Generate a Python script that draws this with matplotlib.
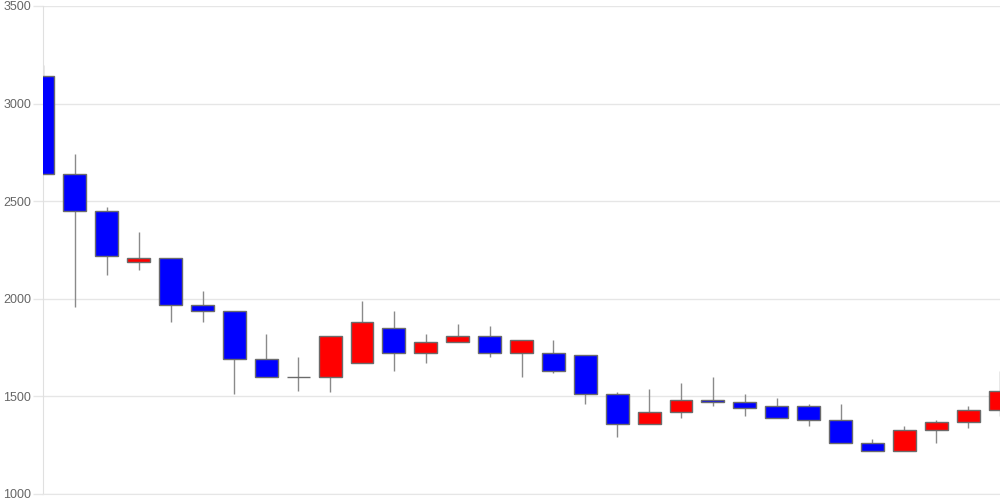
import matplotlib.pyplot as plt

plt.rcParams['font.family'] = ['Liberation Sans', 'DejaVu Sans']

# daily OHLC values
opens = [3140, 2640, 2450, 2190, 2210, 1970, 1940, 1690, 1600, 1600, 1670,
         1850, 1720, 1780, 1810, 1720, 1720, 1710, 1510, 1360, 1420, 1480,
         1470, 1450, 1450, 1380, 1260, 1220, 1330, 1370, 1430]
highs = [3200, 2740, 2470, 2340, 2210, 2040, 1940, 1820, 1700, 1810, 1990,
         1940, 1820, 1870, 1860, 1790, 1790, 1710, 1520, 1540, 1570, 1600,
         1510, 1490, 1460, 1460, 1280, 1350, 1380, 1450, 1630]
lows = [2640, 1960, 2120, 2150, 1880, 1880, 1510, 1600, 1530, 1520, 1670,
        1630, 1670, 1780, 1700, 1600, 1620, 1460, 1290, 1360, 1390, 1450,
        1400, 1390, 1350, 1260, 1220, 1220, 1260, 1340, 1400]
closes = [2640, 2450, 2220, 2210, 1970, 1940, 1690, 1600, 1600, 1810, 1880,
          1720, 1780, 1810, 1720, 1790, 1630, 1510, 1360, 1420, 1480, 1470,
          1440, 1390, 1380, 1260, 1220, 1330, 1370, 1430, 1530]
y_ticks = [1000, 1500, 2000, 2500, 3000, 3500]

fig = plt.figure(figsize=(10, 5), dpi=100)
ax = fig.add_axes([0.043, 0.012, 0.957, 0.976])

x = list(range(len(opens)))
for i in x:
    o, h, l, c = opens[i], highs[i], lows[i], closes[i]
    ax.vlines(i, l, h, color='#8a8a8a', linewidth=1, zorder=2)
    if c > o:
        face = '#ff0000'
    elif c < o:
        face = '#0000ff'
    else:
        face = '#777777'
    ax.bar(i, c - o, bottom=o, width=0.72, color=face, edgecolor='#6b6b6b',
           linewidth=1, zorder=3)

ax.set_xlim(0, len(opens) - 1)
ax.set_ylim(1000, 3500)
ax.set_yticks(y_ticks)
ax.set_xticks([])
ax.grid(axis='y', color='#e6e6e6', linewidth=1, zorder=0)
ax.tick_params(axis='y', length=7.5, width=1, color='#e6e6e6', pad=1,
               labelsize=9, labelcolor='#666666')

for side in ['top', 'right']:
    ax.spines[side].set_visible(False)
ax.spines['left'].set_color('#e0e0e0')
ax.spines['bottom'].set_color('#e6e6e6')

plt.savefig('out.png', dpi=100)
